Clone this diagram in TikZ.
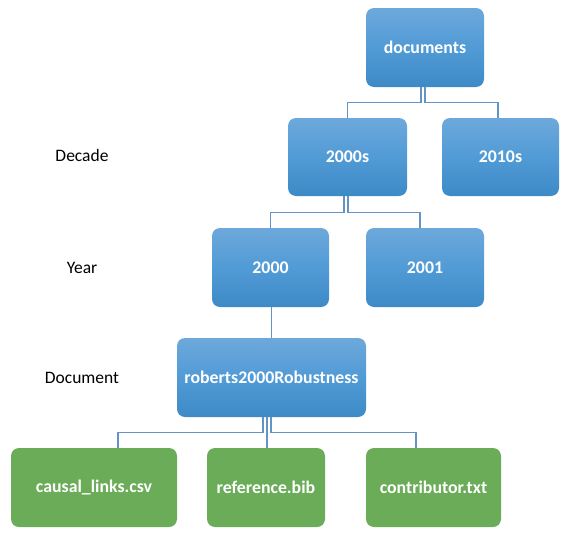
\documentclass[tikz,border=0pt]{standalone}
\usepackage{fontspec}
\setmainfont{Carlito}
\usetikzlibrary{calc}
\definecolor{bluetop}{HTML}{6DA8DB}
\definecolor{bluemid}{HTML}{519BD6}
\definecolor{bluebot}{HTML}{3D8AC6}
\definecolor{boxgreen}{HTML}{6AAC58}
\definecolor{conn}{HTML}{6494C4}
\tikzset{
  box/.style={rounded corners=8pt, inner sep=0pt, text=white,
    font=\fontsize{17.8}{21}\selectfont\bfseries},
  bluebox/.style={box, top color=bluetop, bottom color=bluebot, middle color=bluemid},
  greenbox/.style={box, fill=boxgreen},
  lvl/.style={font=\fontsize{17.5}{21}\selectfont, text=black},
  conline/.style={draw=conn, line width=1.2pt}
}
\begin{document}
\begin{tikzpicture}[x=1pt,y=-1pt]
\useasboundingbox (0,0) rectangle (571,533);
% nodes
\node[bluebox, minimum width=118pt, minimum height=79pt] (docs) at (425,47.5) {documents};
\node[bluebox, minimum width=119pt, minimum height=78pt] (d2000s) at (347.5,157) {2000s};
\node[bluebox, minimum width=117pt, minimum height=78pt] (d2010s) at (500.5,157) {2010s};
\node[bluebox, minimum width=117pt, minimum height=79pt] (y2000) at (270.5,267.5) {2000};
\node[bluebox, minimum width=118pt, minimum height=79pt] (y2001) at (425,267.5) {2001};
\node[bluebox, minimum width=189pt, minimum height=79pt] (rob) at (271.5,377.5) {roberts2000Robustness};
\node[greenbox, minimum width=166pt, minimum height=79pt] (causal) at (94,487.5) {causal\_links.csv};
\node[greenbox, minimum width=118pt, minimum height=79pt] (ref) at (266,487.5) {reference.bib};
\node[greenbox, minimum width=135pt, minimum height=79pt] (contrib) at (433.5,487.5) {contributor.txt};
% level labels
\node[lvl] (ldecade) at (82,155) {Decade};
\node[lvl] (lyear) at (82,268) {Year};
\node[lvl] (ldoc) at (82,378) {Document};
% connectors
\draw[conline] ([xshift=-4pt]docs.south) -- ++(0,15) -| (d2000s.north);
\draw[conline] (docs.south) -- ++(0,15) -| ([xshift=-2.5pt]d2010s.north);
\draw[conline] ([xshift=-3.5pt]d2000s.south) -- ++(0,16) -| (y2000.north);
\draw[conline] ([xshift=0.5pt]d2000s.south) -- ++(0,16) -| ([xshift=-5pt]y2001.north);
\draw[conline] ([xshift=1pt]y2000.south) -- ([xshift=1pt]y2000.south |- rob.north);
\draw[conline] ([xshift=-8.5pt]rob.south) -- ++(0,15) -| ([xshift=24pt]causal.north);
\draw[conline] ([xshift=-4.5pt]rob.south) -- ++(0,15) -| ([xshift=1pt]ref.north);
\draw[conline] ([xshift=-0.5pt]rob.south) -- ++(0,15) -| ([xshift=-17.5pt]contrib.north);
\end{tikzpicture}
\end{document}
